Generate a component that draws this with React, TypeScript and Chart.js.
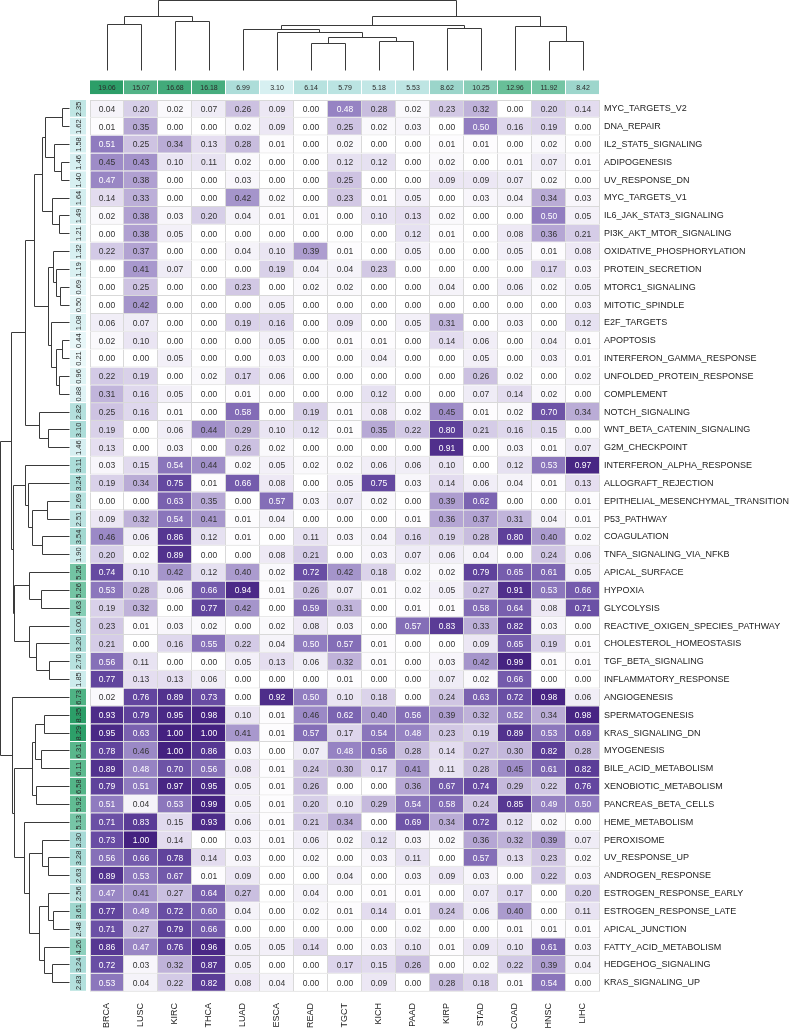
import React, { useEffect, useRef } from 'react';
import { Chart, registerables } from 'chart.js';

Chart.register(...registerables);

const cancerTypes = ['BRCA', 'LUSC', 'KIRC', 'THCA', 'LUAD', 'ESCA', 'READ', 'TGCT', 'KICH', 'PAAD', 'KIRP', 'STAD', 'COAD', 'HNSC', 'LIHC'];

const hallmarks = [
  'MYC_TARGETS_V2', 'DNA_REPAIR', 'IL2_STAT5_SIGNALING', 'ADIPOGENESIS', 'UV_RESPONSE_DN',
  'MYC_TARGETS_V1', 'IL6_JAK_STAT3_SIGNALING', 'PI3K_AKT_MTOR_SIGNALING', 'OXIDATIVE_PHOSPHORYLATION', 'PROTEIN_SECRETION',
  'MTORC1_SIGNALING', 'MITOTIC_SPINDLE', 'E2F_TARGETS', 'APOPTOSIS', 'INTERFERON_GAMMA_RESPONSE',
  'UNFOLDED_PROTEIN_RESPONSE', 'COMPLEMENT', 'NOTCH_SIGNALING', 'WNT_BETA_CATENIN_SIGNALING', 'G2M_CHECKPOINT',
  'INTERFERON_ALPHA_RESPONSE', 'ALLOGRAFT_REJECTION', 'EPITHELIAL_MESENCHYMAL_TRANSITION', 'P53_PATHWAY', 'COAGULATION',
  'TNFA_SIGNALING_VIA_NFKB', 'APICAL_SURFACE', 'HYPOXIA', 'GLYCOLYSIS', 'REACTIVE_OXIGEN_SPECIES_PATHWAY',
  'CHOLESTEROL_HOMEOSTASIS', 'TGF_BETA_SIGNALING', 'INFLAMMATORY_RESPONSE', 'ANGIOGENESIS', 'SPERMATOGENESIS',
  'KRAS_SIGNALING_DN', 'MYOGENESIS', 'BILE_ACID_METABOLISM', 'XENOBIOTIC_METABOLISM', 'PANCREAS_BETA_CELLS',
  'HEME_METABOLISM', 'PEROXISOME', 'UV_RESPONSE_UP', 'ANDROGEN_RESPONSE', 'ESTROGEN_RESPONSE_EARLY',
  'ESTROGEN_RESPONSE_LATE', 'APICAL_JUNCTION', 'FATTY_ACID_METABOLISM', 'HEDGEHOG_SIGNALING', 'KRAS_SIGNALING_UP',
];

const columnTotals = [19.06, 15.07, 16.68, 16.18, 6.99, 3.10, 6.14, 5.79, 5.18, 5.53, 8.62, 10.25, 12.96, 11.92, 8.42];

const rowTotals = [
  2.35, 1.62, 1.58, 1.46, 1.40, 1.64, 1.49, 1.21, 1.32, 1.19,
  0.69, 0.50, 1.08, 0.44, 0.21, 0.96, 0.88, 2.82, 3.10, 1.46,
  3.11, 3.24, 2.69, 2.51, 3.54, 1.90, 5.26, 5.26, 4.63, 3.00,
  3.20, 2.70, 1.85, 6.73, 8.35, 8.29, 6.31, 6.11, 6.58, 5.92,
  5.13, 3.30, 3.28, 2.63, 2.56, 3.61, 2.48, 4.26, 3.24, 2.83,
];

const BRCA = [0.04, 0.01, 0.51, 0.45, 0.47, 0.14, 0.02, 0.00, 0.22, 0.00, 0.00, 0.00, 0.06, 0.02, 0.00, 0.22, 0.31, 0.25, 0.19, 0.13, 0.03, 0.19, 0.00, 0.09, 0.46, 0.20, 0.74, 0.53, 0.19, 0.23, 0.21, 0.56, 0.77, 0.02, 0.93, 0.95, 0.78, 0.89, 0.79, 0.51, 0.71, 0.73, 0.56, 0.89, 0.47, 0.77, 0.71, 0.86, 0.72, 0.53];
const LUSC = [0.20, 0.35, 0.25, 0.43, 0.38, 0.33, 0.38, 0.38, 0.37, 0.41, 0.25, 0.42, 0.07, 0.10, 0.00, 0.19, 0.16, 0.16, 0.00, 0.00, 0.15, 0.34, 0.00, 0.32, 0.06, 0.02, 0.10, 0.28, 0.32, 0.01, 0.00, 0.11, 0.13, 0.76, 0.79, 0.63, 0.46, 0.48, 0.51, 0.04, 0.83, 1.00, 0.66, 0.53, 0.41, 0.49, 0.27, 0.47, 0.03, 0.04];
const KIRC = [0.02, 0.00, 0.34, 0.10, 0.00, 0.00, 0.03, 0.05, 0.00, 0.07, 0.00, 0.00, 0.00, 0.00, 0.05, 0.00, 0.05, 0.01, 0.06, 0.03, 0.54, 0.75, 0.63, 0.54, 0.86, 0.89, 0.42, 0.06, 0.00, 0.03, 0.16, 0.00, 0.13, 0.89, 0.95, 1.00, 1.00, 0.70, 0.97, 0.53, 0.15, 0.14, 0.78, 0.67, 0.27, 0.72, 0.79, 0.76, 0.32, 0.22];
const THCA = [0.07, 0.00, 0.13, 0.11, 0.00, 0.00, 0.20, 0.00, 0.00, 0.00, 0.00, 0.00, 0.00, 0.00, 0.00, 0.02, 0.00, 0.00, 0.44, 0.00, 0.44, 0.01, 0.35, 0.41, 0.12, 0.00, 0.12, 0.66, 0.77, 0.02, 0.55, 0.00, 0.06, 0.73, 0.98, 1.00, 0.86, 0.56, 0.95, 0.99, 0.93, 0.00, 0.14, 0.01, 0.64, 0.60, 0.66, 0.96, 0.87, 0.82];
const LUAD = [0.26, 0.02, 0.28, 0.02, 0.03, 0.42, 0.04, 0.00, 0.04, 0.00, 0.23, 0.00, 0.19, 0.00, 0.00, 0.17, 0.01, 0.58, 0.29, 0.26, 0.02, 0.66, 0.00, 0.01, 0.01, 0.00, 0.40, 0.94, 0.42, 0.00, 0.22, 0.05, 0.00, 0.00, 0.10, 0.41, 0.03, 0.08, 0.05, 0.05, 0.06, 0.03, 0.03, 0.09, 0.27, 0.04, 0.00, 0.05, 0.05, 0.08];
const ESCA = [0.09, 0.09, 0.01, 0.00, 0.00, 0.02, 0.01, 0.00, 0.10, 0.19, 0.00, 0.05, 0.16, 0.05, 0.03, 0.06, 0.00, 0.00, 0.10, 0.02, 0.05, 0.08, 0.57, 0.04, 0.00, 0.08, 0.02, 0.01, 0.00, 0.02, 0.04, 0.13, 0.00, 0.92, 0.01, 0.01, 0.00, 0.01, 0.01, 0.01, 0.01, 0.01, 0.00, 0.00, 0.00, 0.00, 0.00, 0.05, 0.00, 0.04];
const READ = [0.00, 0.00, 0.00, 0.00, 0.00, 0.00, 0.01, 0.00, 0.39, 0.04, 0.02, 0.00, 0.00, 0.00, 0.00, 0.00, 0.00, 0.19, 0.12, 0.00, 0.02, 0.00, 0.03, 0.00, 0.11, 0.21, 0.72, 0.26, 0.59, 0.08, 0.50, 0.06, 0.00, 0.50, 0.46, 0.57, 0.07, 0.24, 0.26, 0.20, 0.21, 0.06, 0.02, 0.00, 0.04, 0.02, 0.00, 0.14, 0.00, 0.00];
const TGCT = [0.48, 0.25, 0.02, 0.12, 0.25, 0.23, 0.00, 0.00, 0.01, 0.04, 0.02, 0.00, 0.09, 0.01, 0.00, 0.00, 0.00, 0.01, 0.01, 0.00, 0.02, 0.05, 0.07, 0.00, 0.03, 0.00, 0.42, 0.07, 0.31, 0.03, 0.57, 0.32, 0.01, 0.10, 0.62, 0.17, 0.48, 0.30, 0.00, 0.10, 0.34, 0.02, 0.00, 0.04, 0.00, 0.01, 0.00, 0.00, 0.17, 0.00];
const KICH = [0.28, 0.02, 0.00, 0.12, 0.00, 0.01, 0.10, 0.00, 0.00, 0.23, 0.00, 0.00, 0.00, 0.01, 0.04, 0.00, 0.12, 0.08, 0.35, 0.00, 0.06, 0.75, 0.02, 0.00, 0.04, 0.03, 0.18, 0.01, 0.00, 0.00, 0.01, 0.01, 0.00, 0.18, 0.40, 0.54, 0.56, 0.17, 0.00, 0.29, 0.00, 0.12, 0.03, 0.00, 0.01, 0.14, 0.00, 0.03, 0.15, 0.09];
const PAAD = [0.02, 0.03, 0.00, 0.00, 0.00, 0.05, 0.13, 0.12, 0.05, 0.00, 0.00, 0.00, 0.05, 0.00, 0.00, 0.00, 0.00, 0.02, 0.22, 0.00, 0.06, 0.03, 0.00, 0.01, 0.16, 0.07, 0.02, 0.02, 0.01, 0.57, 0.00, 0.00, 0.00, 0.00, 0.56, 0.48, 0.28, 0.41, 0.36, 0.54, 0.69, 0.03, 0.11, 0.03, 0.01, 0.01, 0.02, 0.10, 0.26, 0.00];
const KIRP = [0.23, 0.00, 0.01, 0.02, 0.09, 0.00, 0.02, 0.01, 0.00, 0.00, 0.04, 0.00, 0.31, 0.14, 0.00, 0.00, 0.00, 0.45, 0.80, 0.91, 0.10, 0.14, 0.39, 0.36, 0.19, 0.06, 0.02, 0.05, 0.01, 0.83, 0.00, 0.03, 0.07, 0.24, 0.39, 0.23, 0.14, 0.11, 0.67, 0.58, 0.34, 0.02, 0.00, 0.09, 0.00, 0.24, 0.00, 0.01, 0.00, 0.28];
const STAD = [0.32, 0.50, 0.01, 0.00, 0.09, 0.03, 0.00, 0.00, 0.00, 0.00, 0.00, 0.00, 0.00, 0.06, 0.05, 0.26, 0.07, 0.01, 0.21, 0.00, 0.00, 0.06, 0.62, 0.37, 0.28, 0.04, 0.79, 0.27, 0.58, 0.33, 0.09, 0.42, 0.02, 0.63, 0.32, 0.19, 0.27, 0.28, 0.74, 0.24, 0.72, 0.36, 0.57, 0.03, 0.07, 0.06, 0.00, 0.09, 0.02, 0.18];
const COAD = [0.00, 0.16, 0.00, 0.01, 0.07, 0.04, 0.00, 0.08, 0.05, 0.00, 0.06, 0.00, 0.03, 0.00, 0.00, 0.02, 0.14, 0.02, 0.16, 0.03, 0.12, 0.04, 0.00, 0.31, 0.80, 0.00, 0.65, 0.91, 0.64, 0.82, 0.65, 0.99, 0.66, 0.72, 0.52, 0.89, 0.30, 0.45, 0.29, 0.85, 0.12, 0.32, 0.13, 0.00, 0.17, 0.40, 0.01, 0.10, 0.22, 0.01];
const HNSC = [0.20, 0.19, 0.02, 0.07, 0.02, 0.34, 0.50, 0.36, 0.01, 0.17, 0.02, 0.00, 0.00, 0.04, 0.03, 0.00, 0.02, 0.70, 0.15, 0.01, 0.53, 0.01, 0.00, 0.04, 0.40, 0.24, 0.61, 0.53, 0.08, 0.03, 0.19, 0.01, 0.00, 0.98, 0.34, 0.53, 0.82, 0.61, 0.22, 0.49, 0.02, 0.39, 0.23, 0.22, 0.00, 0.00, 0.01, 0.61, 0.39, 0.54];
const LIHC = [0.14, 0.00, 0.00, 0.01, 0.00, 0.03, 0.05, 0.21, 0.08, 0.03, 0.05, 0.03, 0.12, 0.01, 0.01, 0.02, 0.00, 0.34, 0.00, 0.07, 0.97, 0.13, 0.01, 0.01, 0.02, 0.06, 0.05, 0.66, 0.71, 0.00, 0.01, 0.01, 0.00, 0.06, 0.98, 0.69, 0.28, 0.82, 0.76, 0.50, 0.00, 0.07, 0.02, 0.03, 0.20, 0.11, 0.01, 0.03, 0.04, 0.00];

const columnValues = [BRCA, LUSC, KIRC, THCA, LUAD, ESCA, READ, TGCT, KICH, PAAD, KIRP, STAD, COAD, HNSC, LIHC];

// Row dendrogram merges: [node, childA, childB, height]; numbers are row leaves
const rowMerges: Array<[string, number | string, number | string, number]> = [
  ['a1', 0, 1, 7], ['a2', 3, 4, 8], ['a3', 2, 'a2', 15], ['a4', 'a1', 'a3', 24],
  ['b1', 6, 7, 10], ['b2', 5, 'b1', 17], ['c0', 'a4', 'b2', 27],
  ['d1', 10, 11, 9], ['d2', 9, 'd1', 13], ['d3', 8, 'd2', 16],
  ['e1', 13, 14, 7], ['e2', 15, 16, 10], ['e3', 'e1', 'e2', 13], ['e4', 12, 'e3', 18],
  ['f1', 'd3', 'e4', 21], ['g1', 'c0', 'f1', 35],
  ['h1', 18, 19, 21], ['h2', 17, 'h1', 30], ['T1', 'g1', 'h2', 44],
  ['i1', 22, 23, 22], ['i2', 24, 25, 27], ['i3', 'i1', 'i2', 37], ['i4', 21, 'i3', 41], ['H', 20, 'i4', 44],
  ['k1', 27, 28, 28], ['K', 26, 'k1', 40], ['l1', 31, 32, 20], ['l2', 30, 'l1', 33], ['L', 29, 'l2', 40],
  ['G', 'K', 'L', 55], ['T2', 'H', 'G', 56.5], ['T', 'T1', 'T2', 58],
  ['m1', 34, 35, 25], ['m2', 36, 37, 28], ['E', 'm1', 'm2', 34], ['F', 38, 39, 33], ['B2', 'E', 'F', 37],
  ['n1', 42, 43, 21], ['C1', 41, 'n1', 27], ['o1', 45, 46, 16], ['C2a', 44, 'o1', 21],
  ['p1', 48, 49, 17], ['C2b', 47, 'p1', 25], ['C2', 'C2a', 'C2b', 30], ['C', 'C1', 'C2', 40], ['R40', 40, 'C', 45],
  ['B1', 'B2', 'R40', 55], ['Nb', 33, 'B1', 57], ['root', 'T', 'Nb', 69.5],
];

// Column dendrogram merges
const colMerges: Array<[string, number | string, number | string, number]> = [
  ['c1', 0, 1, 46], ['c2', 2, 3, 49], ['cL', 'c1', 'c2', 54],
  ['t1', 6, 7, 27], ['t2', 8, 9, 29.3], ['t3', 't1', 't2', 32.7], ['t4', 5, 't3', 37.7],
  ['t5', 4, 't4', 41], ['t6', 10, 11, 41.7], ['t7', 't5', 't6', 45],
  ['u1', 13, 14, 29], ['u2', 12, 'u1', 44], ['cR', 't7', 'u2', 54], ['root', 'cL', 'cR', 70.5],
];

const PURPLES: Array<[number, string]> = [
  [0, '#ffffff'], [0.05, '#f3f0f8'], [0.15, '#e1daee'], [0.3, '#c4b8dc'],
  [0.5, '#917dc0'], [0.75, '#6448a0'], [1, '#442180'],
];
const GREENS: Array<[number, string]> = [
  [0, '#eef9fb'], [0.2, '#d2eeef'], [0.4, '#a6dad5'], [0.55, '#86cdb5'],
  [0.7, '#63bd94'], [0.85, '#47ad7e'], [1, '#2c9e68'],
];

const FONT = '"Liberation Sans", Arial, Helvetica, sans-serif';
const STRIP_X0 = -20 / 34;
const STRIP_X1 = -4 / 34;
const HEADER_Y = -0.715;

function hexToRgb(h: string) {
  const n = parseInt(h.slice(1), 16);
  return [(n >> 16) & 255, (n >> 8) & 255, n & 255];
}
function ramp(stops: Array<[number, string]>, t: number) {
  const tt = Math.max(0, Math.min(1, t));
  for (let i = 1; i < stops.length; i++) {
    if (tt <= stops[i][0]) {
      const [t0, c0] = stops[i - 1];
      const [t1, c1] = stops[i];
      const f = (tt - t0) / (t1 - t0);
      const a = hexToRgb(c0);
      const b = hexToRgb(c1);
      return `rgb(${a.map((v, k) => Math.round(v + (b[k] - v) * f)).join(',')})`;
    }
  }
  return stops[stops.length - 1][1];
}

const snap = (v: number) => Math.round(v - 0.5) + 0.5;

function drawTree(
  ctx: CanvasRenderingContext2D,
  merges: Array<[string, number | string, number | string, number]>,
  leafPos: (i: number) => number,
  hPx: (h: number) => number,
  heightOnX: boolean,
) {
  const nodes = new Map<string, { p: number; h: number }>();
  const get = (k: number | string) => (typeof k === 'number' ? { p: leafPos(k), h: 0 } : nodes.get(k)!);
  ctx.beginPath();
  for (const [id, a, b, h] of merges) {
    const A = get(a);
    const B = get(b);
    const pts: Array<[number, number]> = [[A.p, A.h], [A.p, h], [B.p, h], [B.p, B.h]];
    pts.forEach(([p, hh], i) => {
      const hp = snap(hPx(hh));
      const pp = snap(p);
      const X = heightOnX ? hp : pp;
      const Y = heightOnX ? pp : hp;
      if (i === 0) ctx.moveTo(X, Y);
      else ctx.lineTo(X, Y);
    });
    nodes.set(id, { p: (A.p + B.p) / 2, h });
  }
  ctx.stroke();
}

const dendroPlugin = {
  id: 'dendro',
  afterDraw(chart: any) {
    const { ctx, chartArea, scales } = chart;
    ctx.save();
    ctx.strokeStyle = '#3a3a3a';
    ctx.lineWidth = 1;
    const leftMax = Math.max(...rowMerges.map((m) => m[3]));
    const leftEdge = chartArea.left - 1;
    drawTree(ctx, rowMerges, (i) => scales.y.getPixelForValue(i + 0.5),
      (h) => leftEdge - (h * (leftEdge - 0.5)) / leftMax, true);
    const topMax = Math.max(...colMerges.map((m) => m[3]));
    const topEdge = chartArea.top - 1;
    drawTree(ctx, colMerges, (i) => scales.x.getPixelForValue(i + 0.5),
      (h) => topEdge - (h * (topEdge - 0.5)) / topMax, false);
    ctx.restore();
  },
};

const textPlugin = {
  id: 'cellText',
  afterDatasetsDraw(chart: any) {
    const ctx: CanvasRenderingContext2D = chart.ctx;
    ctx.save();
    ctx.textAlign = 'center';
    ctx.textBaseline = 'middle';
    chart.data.datasets.forEach((ds: any, di: number) => {
      const meta = chart.getDatasetMeta(di);
      meta.data.forEach((el: any, i: number) => {
        const { x, y, base } = el.getProps(['x', 'y', 'base'], true);
        const cx = (x + base) / 2;
        if (ds.kind === 'cell') {
          const v = columnValues[ds.col][i];
          ctx.font = `8.5px ${FONT}`;
          ctx.fillStyle = v >= 0.47 ? '#ffffff' : '#333333';
          ctx.fillText(v.toFixed(2), cx, y + 0.5);
        } else if (ds.kind === 'header') {
          ctx.font = `7px ${FONT}`;
          ctx.fillStyle = '#2a2a2a';
          ctx.fillText(columnTotals[i].toFixed(2), cx, y + 0.5);
        } else if (ds.kind === 'strip') {
          ctx.save();
          ctx.translate(cx + 0.5, y);
          ctx.rotate(-Math.PI / 2);
          ctx.font = `7.5px ${FONT}`;
          ctx.fillStyle = '#2a2a2a';
          ctx.fillText(rowTotals[i].toFixed(2), 0, 0);
          ctx.restore();
        }
      });
    });
    ctx.restore();
  },
};

export default function App() {
  const ref = useRef<HTMLCanvasElement>(null);
  useEffect(() => {
    if (!ref.current) return;
    const maxRow = Math.max(...rowTotals);
    const maxCol = Math.max(...columnTotals);
    const datasets: any[] = [
      ...columnValues.map((vals, c) => ({
        kind: 'cell',
        col: c,
        data: vals.map((_, r) => ({ x: [c, c + 1], y: r + 0.5 })),
        backgroundColor: vals.map((v) => ramp(PURPLES, v)),
        borderColor: '#d9d9d9',
        borderWidth: (ctx: any) => ({ top: ctx.dataIndex === 0 ? 1 : 0, right: 1, bottom: 1, left: c === 0 ? 1 : 0 }),
        borderSkipped: false,
        inflateAmount: 0,
      })),
      {
        kind: 'strip',
        data: rowTotals.map((_, r) => ({ x: [STRIP_X0, STRIP_X1], y: r + 0.5 })),
        backgroundColor: rowTotals.map((v) => ramp(GREENS, v / maxRow)),
        borderColor: 'rgba(255,255,255,0.6)',
        borderWidth: { top: 0, right: 0, bottom: 1, left: 0 },
        borderSkipped: false,
        inflateAmount: 0,
      },
      {
        kind: 'header',
        data: columnTotals.map((_, c) => ({ x: [c, c + 1], y: HEADER_Y })),
        backgroundColor: columnTotals.map((v) => ramp(GREENS, v / maxCol)),
        borderColor: '#ffffff',
        borderWidth: { top: 0, right: 1, bottom: 0, left: 0 },
        borderSkipped: false,
        barThickness: 14,
        inflateAmount: 0,
      },
    ];

    const chart = new Chart(ref.current, {
      type: 'bar',
      data: { datasets },
      options: {
        indexAxis: 'y',
        responsive: false,
        maintainAspectRatio: false,
        devicePixelRatio: 1,
        animation: false,
        layout: { padding: { top: 71, left: 70, right: 0, bottom: 0 } },
        datasets: { bar: { grouped: false, barPercentage: 1, categoryPercentage: 1 } },
        plugins: { legend: { display: false }, tooltip: { enabled: false } },
        scales: {
          x: {
            type: 'linear',
            position: 'bottom',
            min: STRIP_X0,
            max: cancerTypes.length,
            grid: { display: false, drawTicks: false },
            border: { display: false },
            afterBuildTicks: (scale: any) => {
              scale.ticks = cancerTypes.map((_, i) => ({ value: i + 0.5 }));
            },
            afterFit: (scale: any) => { scale.height = 30; },
            ticks: {
              autoSkip: false,
              minRotation: 90,
              maxRotation: 90,
              padding: 2,
              color: '#222222',
              font: { family: FONT, size: 9 },
              callback: (_v: any, i: number) => cancerTypes[i],
            },
          },
          y: {
            type: 'linear',
            position: 'right',
            reverse: true,
            min: -1.1,
            max: hallmarks.length,
            grid: { display: false, drawTicks: false },
            border: { display: false },
            afterBuildTicks: (scale: any) => {
              scale.ticks = hallmarks.map((_, i) => ({ value: i + 0.5 }));
            },
            afterFit: (scale: any) => { scale.width = 193; },
            ticks: {
              autoSkip: false,
              padding: 4,
              color: '#222222',
              font: { family: FONT, size: 9 },
              callback: (_v: any, i: number) => hallmarks[i],
            },
          },
        },
      } as any,
      plugins: [textPlugin, dendroPlugin],
    });
    return () => chart.destroy();
  }, []);

  return (
    <div style={{ position: 'absolute', left: 0, top: 0, width: 793, height: 1031, background: '#ffffff' }}>
      <canvas ref={ref} width={793} height={1031} style={{ display: 'block', width: 793, height: 1031 }} />
    </div>
  );
}
